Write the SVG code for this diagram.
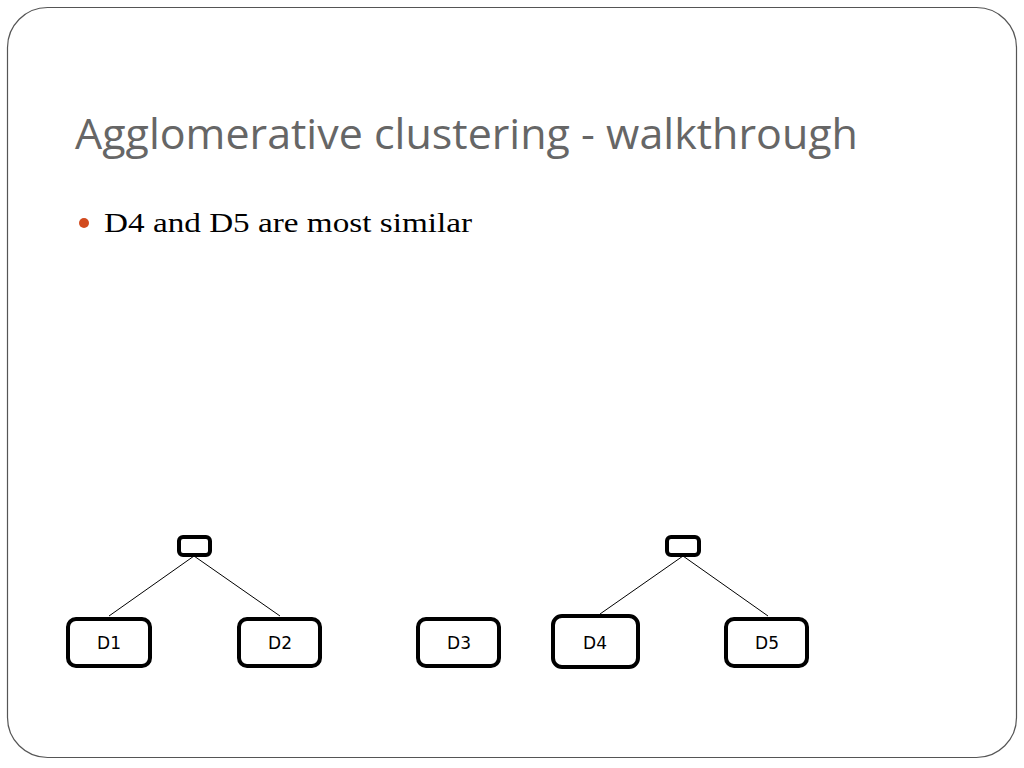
<svg xmlns="http://www.w3.org/2000/svg" width="1024" height="768" viewBox="0 0 1024 768">
<style>
.node rect{fill:#fff;stroke:#000;stroke-width:4}
.node text{font-family:"DejaVu Sans",Verdana,sans-serif;font-size:17px;fill:#000;text-anchor:middle}
.conn line{stroke:#000;stroke-width:1}
</style>
<rect x="0" y="0" width="1024" height="768" fill="#fff"/>
<rect x="7.5" y="7.5" width="1009" height="750" rx="40" ry="40" fill="#fff" stroke="#555" stroke-width="1.2"/>
<text x="75" y="149" font-family="'Open Sans','Liberation Sans',sans-serif" font-size="42" fill="#666" textLength="783" lengthAdjust="spacingAndGlyphs">Agglomerative clustering - walkthrough</text>
<circle cx="84" cy="223" r="5" fill="#D24A1E"/>
<text x="104" y="232" font-family="'Liberation Serif',serif" font-size="28" fill="#000" textLength="368" lengthAdjust="spacingAndGlyphs">D4 and D5 are most similar</text>
<g class="conn">
<line x1="194" y1="556" x2="109" y2="616"/>
<line x1="194" y1="556" x2="280" y2="616"/>
<line x1="683" y1="556" x2="600" y2="614"/>
<line x1="683" y1="556" x2="768" y2="616"/>
</g>
<g id="c12" class="node"><rect x="179" y="537" width="31" height="18" rx="4"/></g>
<g id="c45" class="node"><rect x="667" y="537" width="32" height="18" rx="4"/></g>
<g id="D1" class="node"><rect x="68" y="619" width="82" height="47" rx="8"/><text x="109" y="649">D1</text></g>
<g id="D2" class="node"><rect x="239" y="619" width="81" height="47" rx="8"/><text x="280" y="649">D2</text></g>
<g id="D3" class="node"><rect x="418" y="619" width="81" height="47" rx="8"/><text x="459" y="649">D3</text></g>
<g id="D4" class="node"><rect x="553" y="616" width="85" height="51" rx="9"/><text x="595" y="649">D4</text></g>
<g id="D5" class="node"><rect x="726" y="619" width="81" height="47" rx="8"/><text x="767" y="649">D5</text></g>
</svg>
